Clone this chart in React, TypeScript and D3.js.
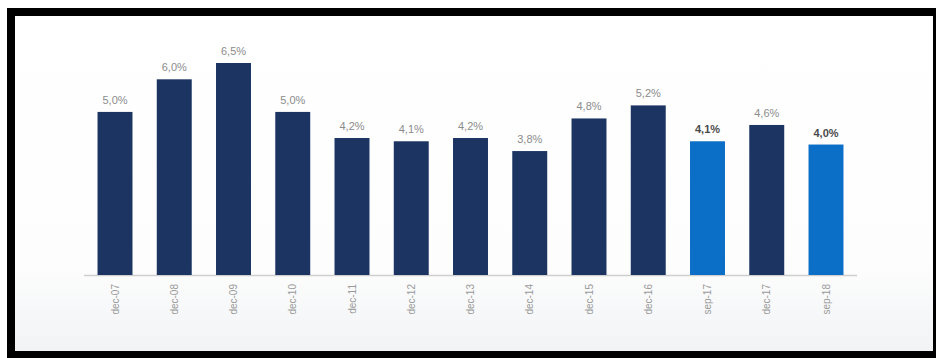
import React from "react";
import * as d3 from "d3";

const categories = ["dec-07", "dec-08", "dec-09", "dec-10", "dec-11", "dec-12", "dec-13", "dec-14", "dec-15", "dec-16", "sep-17", "dec-17", "sep-18"];
const values = [5.0, 6.0, 6.5, 5.0, 4.2, 4.1, 4.2, 3.8, 4.8, 5.2, 4.1, 4.6, 4.0];
const valueLabels = ["5,0%", "6,0%", "6,5%", "5,0%", "4,2%", "4,1%", "4,2%", "3,8%", "4,8%", "5,2%", "4,1%", "4,6%", "4,0%"];
const highlighted = ["sep-17", "sep-18"];

const W = 936;
const H = 358;
const baseY = 275;

export default function App() {
  const x = d3
    .scaleBand<string>()
    .domain(categories)
    .range([85.375, 855.625])
    .paddingInner(0.41)
    .paddingOuter(0.205);
  const y = d3.scaleLinear().domain([0, 6.5]).range([baseY, 63]);
  const font = "'Liberation Sans', Arial, sans-serif";

  return (
    <div style={{ position: "fixed", left: 0, top: 0, width: W, height: H, background: "#fff" }}>
      <svg width={W} height={H} style={{ display: "block" }}>
        <defs>
          <linearGradient id="bg" x1="0" y1="0" x2="0" y2="1">
            <stop offset="0" stopColor="#ffffff" />
            <stop offset="0.75" stopColor="#fdfdfd" />
            <stop offset="1" stopColor="#f1f3f5" />
          </linearGradient>
        </defs>
        <rect x={0} y={0} width={W} height={H} fill="#fff" />
        <rect x={7} y={8} width={W - 7} height={H - 8} fill="#000" />
        <rect x={15} y={16} width={918} height={335} fill="url(#bg)" />
        <line x1={84} x2={857} y1={baseY + 0.5} y2={baseY + 0.5} stroke="#cfcfcf" strokeWidth={1.5} />
        {categories.map((c, i) => {
          const hl = highlighted.includes(c);
          const bx = x(c)!;
          const bw = x.bandwidth();
          const top = y(values[i]);
          return (
            <g key={c}>
              <rect x={bx} y={top} width={bw} height={baseY - top} fill={hl ? "#0b6fc7" : "#1c3462"} />
              <text
                x={bx + bw / 2}
                y={top - 8}
                textAnchor="middle"
                fontFamily={font}
                fontSize={11}
                fontWeight={hl ? "bold" : "normal"}
                fill={hl ? "#4a4a4a" : "#8c8c8c"}
              >
                {valueLabels[i]}
              </text>
              <text
                transform={`translate(${bx + bw / 2 + 3.5},${baseY + 9}) rotate(-90)`}
                textAnchor="end"
                fontFamily={font}
                fontSize={10}
                fill="#9a9a9a"
              >
                {c}
              </text>
            </g>
          );
        })}
      </svg>
    </div>
  );
}
